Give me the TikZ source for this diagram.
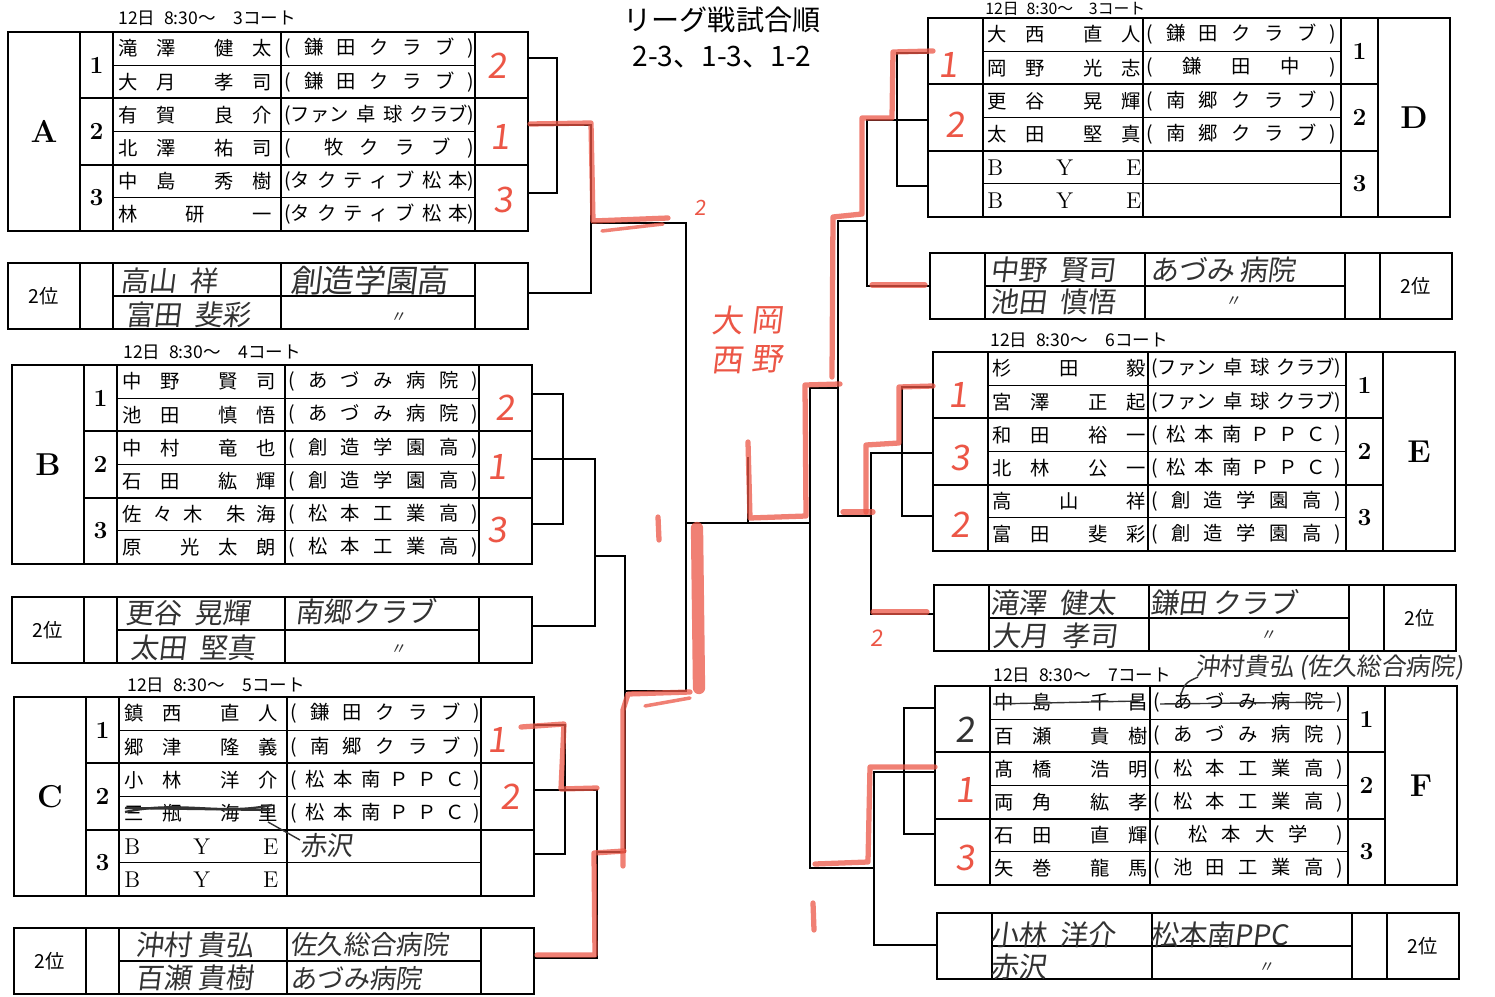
\documentclass[tikz,border=0pt]{standalone}
\usepackage{fontspec}
\usetikzlibrary{positioning}
\newfontfamily\jp{Noto Sans CJK JP}
\newfontfamily\hand[FakeSlant=0.12]{Noto Sans CJK JP}
\definecolor{pen}{RGB}{236,86,70}
\definecolor{pencil}{RGB}{50,50,50}

\newcommand\nm[1]{\makebox[3.08cm][s]{#1}}
\newcommand\cl[1]{\makebox[3.8cm][s]{#1}}
\newcommand\bye{\rmfamily\fontsize{13}{13}\selectfont B Y E}

\tikzset{
  frame/.style={line width=1.1pt},
  rule/.style={line width=0.6pt},
  link/.style={line width=1.1pt},
  txt/.style={anchor=west, inner sep=0pt, font=\jp\fontsize{11}{11}\selectfont},
  hdr/.style={anchor=west, inner sep=0pt, font=\jp\fontsize{10}{10}\selectfont},
  lbl/.style={inner sep=0pt, font=\jp\fontsize{11}{11}\selectfont},
  grp/.style={inner sep=0pt, font=\fontsize{18}{18}\selectfont\bfseries},
  num/.style={inner sep=0pt, font=\fontsize{14}{14}\selectfont\bfseries},
  hw/.style={anchor=west, inner sep=0pt, text=pencil, font=\hand\fontsize{16}{16}\selectfont},
  rednum/.style={inner sep=0pt, text=pen, font=\hand\fontsize{20}{20}\selectfont},
  redpen/.style={draw=pen, line width=3pt, opacity=.75, line cap=round, line join=round},
  strike/.style={draw=pencil, line width=1.3pt},
}

% group table, letter on the left
\newcommand\lefttab[4]{%
  \begin{scope}[shift={(#1,#2)}]
    \draw[frame] (0,0) rectangle (520,199)
      (72,0) -- (72,199) (105,0) -- (105,199) (273,0) -- (273,199) (467,0) -- (467,199)
      (72,66.3) -- (520,66.3) (72,132.7) -- (520,132.7);
    \draw[rule] (105,33.2) -- (467,33.2) (105,99.5) -- (467,99.5) (105,165.8) -- (467,165.8);
    \node (#3) [grp] at (36,99.5) {#3};
    \foreach \g in {1,2,3}
      \node (#3g\g) [num] at (88.5,{66.33*\g-33.2}) {\g};
    \foreach \ri/\na/\cb in {#4}
      {\node (#3n\ri) [txt] at (110,{33.17*\ri-16.6}) {\nm{\na}};
       \node (#3c\ri) [txt] at (276,{33.17*\ri-16.6}) {\cl{\cb}};}
  \end{scope}}

% group table, letter on the right
\newcommand\righttab[4]{%
  \begin{scope}[shift={(#1,#2)}]
    \draw[frame] (0,0) rectangle (522,199)
      (55,0) -- (55,199) (215,0) -- (215,199) (413,0) -- (413,199) (450,0) -- (450,199)
      (0,66.3) -- (450,66.3) (0,132.7) -- (450,132.7);
    \draw[rule] (55,33.2) -- (413,33.2) (55,99.5) -- (413,99.5) (55,165.8) -- (413,165.8);
    \node (#3) [grp] at (486,99.5) {#3};
    \foreach \g in {1,2,3}
      \node (#3g\g) [num] at (431.5,{66.33*\g-33.2}) {\g};
    \foreach \ri/\na/\cb in {#4}
      {\node (#3n\ri) [txt] at (59,{33.17*\ri-16.6}) {\nm{\na}};
       \node (#3c\ri) [txt] at (218,{33.17*\ri-16.6}) {\cl{\cb}};}
  \end{scope}}

% second place boxes
\newcommand\leftsec[3]{%
  \begin{scope}[shift={(#1,#2)}]
    \draw[frame] (0,0) rectangle (520,66) (72,0) -- (72,66) (105,0) -- (105,66)
      (273,0) -- (273,66) (467,0) -- (467,66);
    \draw[rule] (105,33) -- (467,33);
    \node (#3) [lbl] at (36,33) {2位};
  \end{scope}}
\newcommand\rightsec[3]{%
  \begin{scope}[shift={(#1,#2)}]
    \draw[frame] (0,0) rectangle (522,66) (55,0) -- (55,66) (215,0) -- (215,66)
      (415,0) -- (415,66) (450,0) -- (450,66);
    \draw[rule] (55,33) -- (415,33);
    \node (#3) [lbl] at (486,33) {2位};
  \end{scope}}

\begin{document}
\begin{tikzpicture}[x=0.02cm, y=-0.02cm]
\useasboundingbox[fill=white] (0,0) rectangle (1495,997);

\node (title) [font=\jp\fontsize{16}{16}\selectfont] at (722,20) {リーグ戦試合順};
\node (order) [font=\jp\fontsize{16}{16}\selectfont] at (722,57) {2-3、1-3、1-2};

\node (hA) [hdr] at (118,18) {12日\enspace 8:30～\quad 3コート};
\node (hB) [hdr] at (123,352) {12日\enspace 8:30～\quad 4コート};
\node (hC) [hdr] at (127,685) {12日\enspace 8:30～\quad 5コート};
\node (hD) [hdr, font=\jp\fontsize{9}{9}\selectfont] at (985,9) {12日\enspace 8:30～\quad 3コート};
\node (hE) [hdr] at (990,340) {12日\enspace 8:30～\quad 6コート};
\node (hF) [hdr] at (993,675) {12日\enspace 8:30～\quad 7コート};

\lefttab{8}{32}{A}{1/{滝 澤 \ 健 太}/{( 鎌 田 ク ラ ブ )},
  2/{大 月 \ 孝 司}/{( 鎌 田 ク ラ ブ )},
  3/{有 賀 \ 良 介}/{(ファン 卓 球 クラブ)},
  4/{北 澤 \ 祐 司}/{( \ 牧 ク ラ ブ )},
  5/{中 島 \ 秀 樹}/{(タ ク テ ィ ブ 松 本)},
  6/{林 研 一}/{(タ ク テ ィ ブ 松 本)}}
\lefttab{12}{365}{B}{1/{中 野 \ 賢 司}/{( あ づ み 病 院 )},
  2/{池 田 \ 慎 悟}/{( あ づ み 病 院 )},
  3/{中 村 \ 竜 也}/{( 創 造 学 園 高 )},
  4/{石 田 \ 紘 輝}/{( 創 造 学 園 高 )},
  5/{佐 々 木 \ 朱 海}/{( 松 本 工 業 高 )},
  6/{原 \ 光 太 朗}/{( 松 本 工 業 高 )}}
\lefttab{14}{697}{C}{1/{鎮 西 \ 直 人}/{( 鎌 田 ク ラ ブ )},
  2/{郷 津 \ 隆 義}/{( 南 郷 ク ラ ブ )},
  3/{小 林 \ 洋 介}/{( 松 本 南 Ｐ Ｐ Ｃ )},
  4/{三 瓶 \ 海 里}/{( 松 本 南 Ｐ Ｐ Ｃ )},
  5/{\bye}/{},
  6/{\bye}/{}}
\righttab{928}{18}{D}{1/{大 西 \ 直 人}/{( 鎌 田 ク ラ ブ )},
  2/{岡 野 \ 光 志}/{( \ 鎌 \ 田 \ 中 \ )},
  3/{更 谷 \ 晃 輝}/{( 南 郷 ク ラ ブ )},
  4/{太 田 \ 堅 真}/{( 南 郷 ク ラ ブ )},
  5/{\bye}/{},
  6/{\bye}/{}}
\righttab{933}{352}{E}{1/{杉 田 毅}/{(ファン 卓 球 クラブ)},
  2/{宮 澤 \ 正 起}/{(ファン 卓 球 クラブ)},
  3/{和 田 \ 裕 一}/{( 松 本 南 Ｐ Ｐ Ｃ )},
  4/{北 林 \ 公 一}/{( 松 本 南 Ｐ Ｐ Ｃ )},
  5/{高 山 祥}/{( 創 造 学 園 高 )},
  6/{富 田 \ 斐 彩}/{( 創 造 学 園 高 )}}
\righttab{935}{686}{F}{1/{中 島 \ 千 昌}/{( あ づ み 病 院 )},
  2/{百 瀬 \ 貴 樹}/{( あ づ み 病 院 )},
  3/{髙 橋 \ 浩 明}/{( 松 本 工 業 高 )},
  4/{両 角 \ 紘 孝}/{( 松 本 工 業 高 )},
  5/{石 田 \ 直 輝}/{( \ 松 本 大 学 \ )},
  6/{矢 巻 \ 龍 馬}/{( 池 田 工 業 高 )}}

\leftsec{8}{263}{sA}
\leftsec{12}{597}{sB}
\leftsec{14}{928}{sC}
\rightsec{930}{253}{sD}
\rightsec{934}{585}{sE}
\rightsec{937}{913}{sF}

% bracket ends
\coordinate (A1) at (528,58);  \coordinate (A2) at (528,125);
\coordinate (A3) at (528,193); \coordinate (A4) at (528,293);
\coordinate (B1) at (532,394); \coordinate (B2) at (532,459);
\coordinate (B3) at (532,524); \coordinate (B4) at (532,626);
\coordinate (C1) at (534,725); \coordinate (C2) at (534,790);
\coordinate (C3) at (534,854); \coordinate (C4) at (534,958);
\coordinate (D1) at (928,53);  \coordinate (D2) at (928,120);
\coordinate (D3) at (928,186); \coordinate (D4) at (930,286);
\coordinate (E1) at (933,387); \coordinate (E2) at (933,453);
\coordinate (E3) at (933,516); \coordinate (E4) at (934,614);
\coordinate (F1) at (935,708); \coordinate (F2) at (935,772);
\coordinate (F3) at (935,834); \coordinate (F4) at (937,945);
% bars
\coordinate (kA) at (557,0);  \coordinate (kA2) at (591,0);
\coordinate (kB) at (563,0);  \coordinate (kB2) at (595,0);
\coordinate (kC) at (565,0);  \coordinate (kC2) at (597,0);
\coordinate (kBC) at (625,0); \coordinate (kL) at (686,0);
\coordinate (kD) at (897,0);  \coordinate (kD2) at (867,0);
\coordinate (kE) at (902,0);  \coordinate (kE2) at (871,0);
\coordinate (kF) at (904,0);  \coordinate (kF2) at (874,0);
\coordinate (kDE) at (838,0); \coordinate (kR) at (810,0);
\coordinate (wA) at (591,223);  \coordinate (wB) at (595,556);
\coordinate (wC) at (597,852);  \coordinate (wBC) at (625,691);
\coordinate (wD) at (867,221);  \coordinate (wE) at (871,516);
\coordinate (wDE) at (838,388); \coordinate (wF) at (874,868);
\coordinate (fin) at (748,523); \coordinate (champ) at (748,457);

\draw[link] (A1) -| (kA |- A3) -- (A3);
\draw[link] (A2) -| (kA2 |- A4) -- (A4);
\draw[link] (B1) -| (kB |- B3) -- (B3);
\draw[link] (B2) -| (kB2 |- B4) -- (B4);
\draw[link] (C1) -| (kC |- C3) -- (C3);
\draw[link] (C2) -| (kC2 |- C4) -- (C4);
\draw[link] (wB) -| (kBC |- wC) -- (wC);
\draw[link] (wA) -| (kL |- wBC) -- (wBC);
\draw[link] (D1) -| (kD |- D3) -- (D3);
\draw[link] (D2) -| (kD2 |- D4) -- (D4);
\draw[link] (E1) -| (kE |- E3) -- (E3);
\draw[link] (E2) -| (kE2 |- E4) -- (E4);
\draw[link] (F1) -| (kF |- F3) -- (F3);
\draw[link] (F2) -| (kF2 |- F4) -- (F4);
\draw[link] (wD) -| (kDE |- wE) -- (wE);
\draw[link] (wDE) -| (kR |- wF) -- (wF);
\draw[link] (kL |- fin) -- (kR |- fin);
\draw[link] (fin) -- (champ);

% red pencil
\draw[redpen] (530,124) -- (591,123) -- (593,221) -- (668,218);
\draw[redpen, line width=2pt] (602,231) -- (663,224);
\draw[redpen] (521,727) -- (564,724) -- (561,789) -- (597,788);
\draw[redpen] (537,955) -- (595,955) -- (594,853) -- (624,851);
\draw[redpen] (623,866) -- (623,710) -- (628,694) -- (690,692);
\draw[redpen, line width=2pt] (645,706) -- (690,698);
\draw[redpen, line width=7pt] (697,528) -- (699,688);
\draw[redpen] (658,517) -- (659,540);
\draw[redpen] (748,442) -- (750,518) -- (806,516) -- (805,385) -- (840,384);
\draw[redpen] (832,377) -- (833,217) -- (862,214) -- (862,118) -- (892,118) -- (893,52) -- (933,51);
\draw[redpen] (872,285) -- (925,285);
\draw[redpen] (843,512) -- (873,512);
\draw[redpen] (866,512) -- (866,445) -- (899,443) -- (899,387) -- (933,386);
\draw[redpen] (873,612) -- (927,612);
\draw[redpen] (935,767) -- (870,767) -- (868,862) -- (815,864);
\draw[redpen] (813,903) -- (814,930);

\node (rA1) [rednum] at (497,66) {2};
\node (rA2) [rednum] at (500,137) {1};
\node (rA3) [rednum] at (503,200) {3};
\node (rB1) [rednum] at (505,408) {2};
\node (rB2) [rednum] at (497,467) {1};
\node (rB3) [rednum] at (497,530) {3};
\node (rC1) [rednum] at (497,740) {1};
\node (rC2) [rednum] at (510,797) {2};
\node (rD1) [rednum] at (948,65) {1};
\node (rD2) [rednum] at (955,125) {2};
\node (rE1) [rednum] at (958,395) {1};
\node (rE2) [rednum] at (960,458) {3};
\node (rE3) [rednum] at (960,525) {2};
\node (rF1) [rednum, text=pencil] at (965,730) {2};
\node (rF2) [rednum] at (965,790) {1};
\node (rF3) [rednum] at (965,858) {3};
\node (rL) [rednum, font=\hand\fontsize{12}{12}\selectfont] at (700,208) {2};
\node (rE4) [rednum, font=\hand\fontsize{13}{13}\selectfont] at (877,638) {2};
\node (winA) [rednum, align=center, font=\hand\fontsize{18}{22}\selectfont] at (727,340) {大\\西};
\node (winB) [rednum, align=center, font=\hand\fontsize{18}{22}\selectfont] at (767,340) {岡\\野};

% handwritten second places
\node (hsA1) [hw] at (120,281) {高山\ \ 祥};
\node (hsA2) [hw] at (125,315) {富田\ \ 斐彩};
\node (hsA3) [hw, font=\hand\fontsize{18}{18}\selectfont] at (290,280) {創造学園高};
\node (hsA4) [hw, font=\hand\fontsize{9}{9}\selectfont] at (390,318) {〃};
\node (hsB1) [hw] at (125,613) {更谷\ \ 晃輝};
\node (hsB2) [hw] at (130,648) {太田\ \ 堅真};
\node (hsB3) [hw] at (295,612) {南郷クラブ};
\node (hsB4) [hw, font=\hand\fontsize{9}{9}\selectfont] at (390,650) {〃};
\node (hsC1) [hw] at (135,945) {沖村\ 貴弘};
\node (hsC2) [hw] at (135,978) {百瀬\ 貴樹};
\node (hsC3) [hw, font=\hand\fontsize{15}{15}\selectfont] at (290,945) {佐久総合病院};
\node (hsC4) [hw, font=\hand\fontsize{15}{15}\selectfont] at (290,978) {あづみ病院};
\node (hsD1) [hw] at (990,270) {中野\ \ 賢司};
\node (hsD2) [hw] at (990,302) {池田\ \ 慎悟};
\node (hsD3) [hw] at (1150,270) {あづみ\,病院};
\node (hsD4) [hw, font=\hand\fontsize{9}{9}\selectfont] at (1225,302) {〃};
\node (hsE1) [hw] at (990,603) {滝澤\ \ 健太};
\node (hsE2) [hw] at (992,636) {大月\ \ 孝司};
\node (hsE3) [hw] at (1150,603) {鎌田\ クラブ};
\node (hsE4) [hw, font=\hand\fontsize{9}{9}\selectfont] at (1260,636) {〃};
\node (hsF1) [hw] at (990,935) {小林\ \ 洋介};
\node (hsF2) [hw] at (990,967) {赤沢};
\node (hsF3) [hw] at (1150,935) {松本南PPC};
\node (hsF4) [hw, font=\hand\fontsize{9}{9}\selectfont] at (1258,968) {〃};

% corrections
\draw[strike] (125,812) .. controls (180,800) and (220,816) .. (272,805);
\draw[strike] (125,808) -- (270,810);
\draw[strike, line width=0.8pt] (268,822) -- (300,840);
\node (akasawa) [hw, font=\hand\fontsize{15}{15}\selectfont] at (300,846) {赤沢};
\draw[strike, line width=0.8pt] (993,704) -- (1140,701);
\draw[strike, line width=0.8pt] (1160,704) -- (1335,702);
\node (okimura) [hw, font=\hand\fontsize{14}{14}\selectfont] at (1195,668) {沖村貴弘\ (佐久総合病院)};
\draw[strike, line width=0.8pt] (1198,677) .. controls (1185,683) .. (1180,697);
\end{tikzpicture}
\end{document}
